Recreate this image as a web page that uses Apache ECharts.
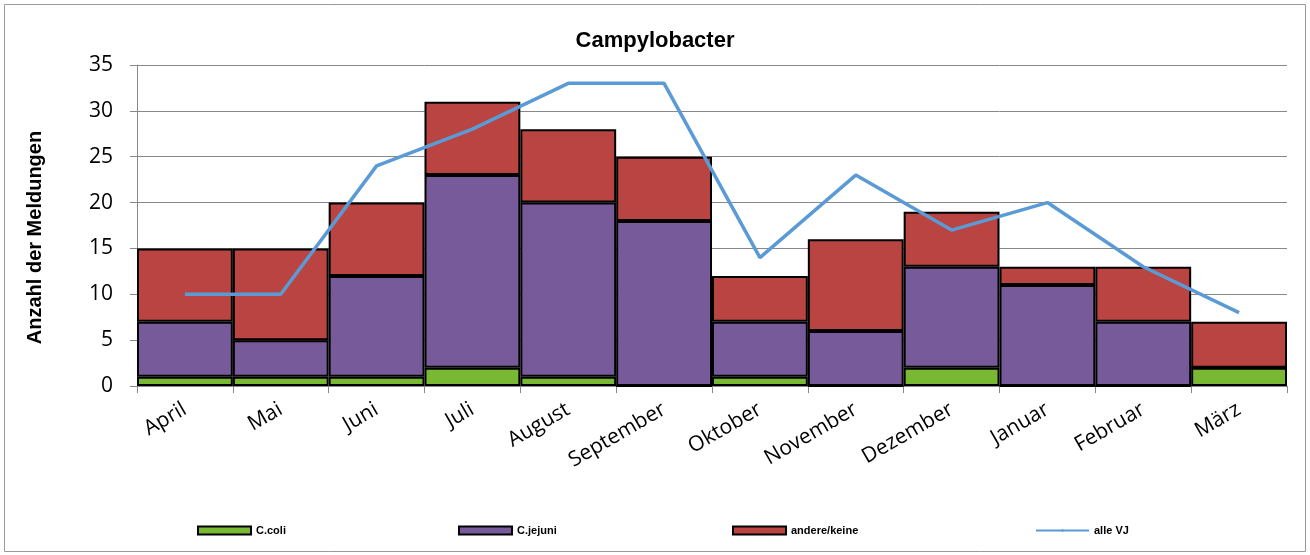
<!DOCTYPE html>
<html><head><meta charset="utf-8">
<script src="https://cdn.jsdelivr.net/npm/echarts@6/dist/echarts.min.js"></script>
<style>html,body{margin:0;padding:0;background:#fff}#c{width:1310px;height:555px}</style>
</head><body><div id="c"></div>
<script>
const categories = ['April','Mai','Juni','Juli','August','September','Oktober','November','Dezember','Januar','Februar','März'];
const coli    = [1,1,1,2,1,0,1,0,2,0,0,2];
const jejuni  = [6,4,11,21,19,18,6,6,11,11,7,0];
const andere  = [8,10,8,8,8,7,5,10,6,2,6,5];
const alleVJ  = [10,10,24,28,33,33,14,23,17,20,13,8];
const yTicks = [0,5,10,15,20,25,30,35];

const chart = echarts.init(document.getElementById('c'));
const legendBase = {top: 520, itemWidth: 53, itemHeight: 8, textStyle: {fontFamily: 'Liberation Sans Narrow, Liberation Sans, Arial', fontSize: 11, fontWeight: 'bold', color: '#000'}, itemGap: 3};
const barStyle = c => ({color: c, borderColor: '#000', borderWidth: 2});
chart.setOption({
  animation: false,
  graphic: [{type: 'rect', shape: {x: 4.5, y: 4.5, width: 1301, height: 547}, style: {fill: 'none', stroke: '#999', lineWidth: 1}}],
  title: {text: 'Campylobacter', left: 'center', top: 25, textStyle: {fontFamily: 'Liberation Sans, Arial', fontSize: 22, fontWeight: 'bold', color: '#000'}},
  grid: {left: 137, right: 23, top: 65, bottom: 169, containLabel: false},
  legend: [
    Object.assign({left: 192, data: [{name: 'C.coli', icon: 'rect'}]}, legendBase),
    Object.assign({left: 453, data: [{name: 'C.jejuni', icon: 'rect'}]}, legendBase),
    Object.assign({left: 727, data: [{name: 'andere/keine', icon: 'rect'}]}, legendBase),
    Object.assign({left: 1030, data: [{name: 'alle VJ'}]}, legendBase, {itemHeight: 3})
  ],
  xAxis: {
    type: 'category', data: categories,
    axisLine: {lineStyle: {color: '#888', width: 1}},
    axisTick: {show: true, length: 7, interval: 0, lineStyle: {color: '#888'}},
    axisLabel: {rotate: 30, interval: 0, fontFamily: 'Open Sans, Liberation Sans', fontSize: 21, color: '#000', margin: 22}
  },
  yAxis: {
    type: 'value', min: 0, max: 35, interval: 5,
    name: 'Anzahl der Meldungen', nameLocation: 'middle', nameGap: 92, nameRotate: 90,
    nameTextStyle: {fontFamily: 'Liberation Sans, Arial', fontSize: 20, fontWeight: 'bold', color: '#000', padding: [0, 24, 0, 0]},
    axisLine: {show: true, lineStyle: {color: '#888'}},
    axisTick: {show: true, length: 7, lineStyle: {color: '#888'}},
    axisLabel: {fontFamily: 'Open Sans, Liberation Sans', fontSize: 21, color: '#000', margin: 24,
      formatter: v => yTicks.includes(v) ? String(v) : ''},
    splitLine: {lineStyle: {color: '#888', width: 1}}
  },
  series: [
    {name: 'C.coli', type: 'bar', stack: 's', data: coli, barCategoryGap: 0, barGap: 0, itemStyle: barStyle('#78B832')},
    {name: 'C.jejuni', type: 'bar', stack: 's', data: jejuni, itemStyle: barStyle('#775A9A')},
    {name: 'andere/keine', type: 'bar', stack: 's', data: andere, itemStyle: barStyle('#B94442')},
    {name: 'alle VJ', type: 'line', data: alleVJ, symbol: 'none', lineStyle: {color: '#5B9BD5', width: 3.5}, itemStyle: {color: '#5B9BD5'}}
  ]
});
</script></body></html>
